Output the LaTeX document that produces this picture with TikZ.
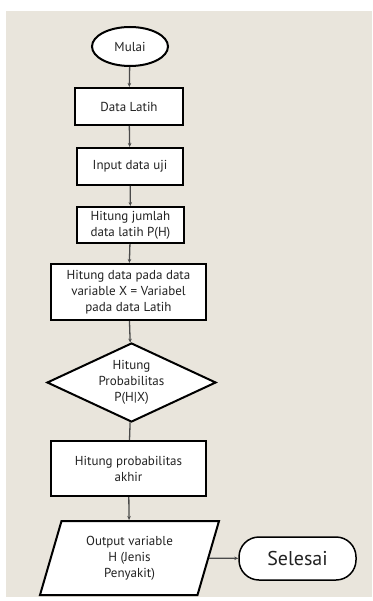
\documentclass[tikz,border=0pt]{standalone}
\usepackage{fontspec}
\setmainfont{PT Sans}
\usetikzlibrary{shapes.geometric,arrows.meta}
\definecolor{bgc}{HTML}{E9E5DC}
\definecolor{txt}{HTML}{222222}
\definecolor{lnc}{HTML}{4A4A4A}
\begin{document}
\begin{tikzpicture}[x=1pt,y=-1pt,
  base/.style={draw=black,line width=2pt,fill=white,text=txt,align=center,inner sep=1pt,
    font=\fontsize{13}{16}\selectfont},
  boxs/.style={base,rectangle},
  conn/.style={draw=lnc,line width=1.3pt,-{Stealth[length=4pt,width=3.5pt]}},
  connp/.style={draw=lnc,line width=1.3pt}]
\useasboundingbox (0,0) rectangle (372,601);
\fill[bgc] (6,11) rectangle (372,597);
\node[base,ellipse,minimum width=76pt,minimum height=39pt] (mulai) at (130,46.5) {Mulai};
\node[boxs,minimum width=108pt,minimum height=37pt] (latih) at (129,106.5) {Data Latih};
\node[boxs,minimum width=106pt,minimum height=37pt] (uji) at (130,166.5) {Input data uji};
\node[boxs,minimum width=107pt,minimum height=36pt] (jumlah) at (130.5,225) {Hitung jumlah\\data latih P(H)};
\node[boxs,minimum width=155pt,minimum height=56pt] (hdata) at (128.5,292) {Hitung data pada data\\variable X = Variabel\\pada data Latih};
\node[base,diamond,aspect=2.14,inner sep=0pt,minimum width=169pt,minimum height=79pt] (prob) at (131.5,382.5) {Hitung\\Probabilitas\\P(H|X)};
\node[boxs,minimum width=155pt,minimum height=55pt] (akhir) at (128.5,468.5) {Hitung probabilitas\\akhir};
\node[base,trapezium,trapezium left angle=64,trapezium right angle=116,trapezium stretches body,
  minimum width=179pt,minimum height=74pt,inner sep=0pt] (out) at (129.5,558) {Output variable\\H (Jenis\\Penyakit)};
\node[draw=black,line width=1.5pt,fill=white,text=txt,rounded corners=20pt,minimum width=117pt,minimum height=43pt,
  font=\fontsize{20}{22}\selectfont] (sel) at (297.5,558.5) {Selesai};
\draw[conn] (mulai) -- (latih);
\draw[conn] (latih) -- (uji);
\draw[conn] (uji) -- (jumlah);
\draw[conn] (jumlah) -- (hdata);
\draw[conn] (hdata) -- (prob);
\draw[connp] (prob) -- (akhir);
\draw[conn] (akhir) -- (out);
\draw[conn] (out) -- (sel);
\end{tikzpicture}
\end{document}
